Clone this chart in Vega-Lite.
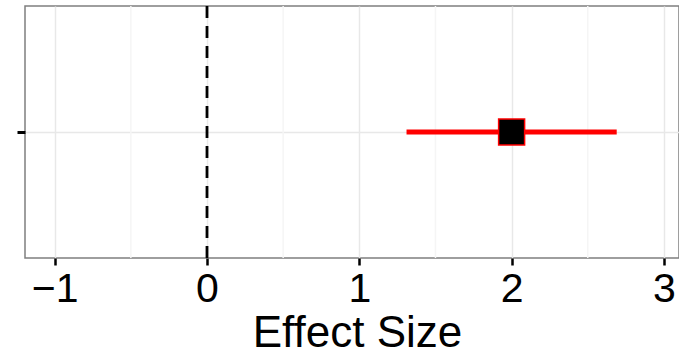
{
  "$schema": "https://vega.github.io/schema/vega-lite/v6.json",
  "autosize": "none",
  "width": 654,
  "height": 252,
  "padding": {"left": 25, "top": 6, "right": 0, "bottom": 99},
  "background": "white",
  "config": {
    "font": "Liberation Sans",
    "view": {"stroke": "#7f7f7f", "strokeWidth": 1.5}
  },
  "datasets": {
    "est": [{"study": "A", "est": 2.0, "lo": 1.31, "hi": 2.69}],
    "minor": [{"v": -0.5}, {"v": 0.5}, {"v": 1.5}, {"v": 2.5}],
    "ref": [{"v": 0}]
  },
  "layer": [
    {
      "data": {"name": "minor"},
      "mark": {"type": "rule", "color": "#f5f5f5", "strokeWidth": 1.5},
      "encoding": {
        "x": {"field": "v", "type": "quantitative"}
      }
    },
    {
      "data": {"name": "ref"},
      "mark": {"type": "rule", "color": "black", "strokeWidth": 2.8, "strokeDash": [12, 8]},
      "encoding": {
        "x": {"field": "v", "type": "quantitative"}
      }
    },
    {
      "data": {"name": "est"},
      "mark": {"type": "rule", "color": "#ff0000", "strokeWidth": 5},
      "encoding": {
        "x": {"field": "lo", "type": "quantitative"},
        "x2": {"field": "hi"},
        "y": {"field": "study", "type": "nominal"}
      }
    },
    {
      "data": {"name": "est"},
      "mark": {"type": "point", "shape": "square", "filled": true, "fill": "black", "stroke": "#ff0000", "strokeWidth": 1.5, "size": 676, "opacity": 1},
      "encoding": {
        "x": {
          "field": "est",
          "type": "quantitative",
          "scale": {"domain": [-1.195, 3.099], "nice": false, "zero": false},
          "axis": {
            "title": "Effect Size",
            "values": [-1, 0, 1, 2, 3],
            "format": "d",
            "labelFontSize": 41,
            "labelColor": "black",
            "labelPadding": 4,
            "labelFlush": false,
            "tickSize": 7,
            "tickWidth": 2.5,
            "tickColor": "black",
            "domain": false,
            "grid": true,
            "gridColor": "#e8e8e8",
            "gridWidth": 1.5,
            "titleFontSize": 44,
            "titleFontWeight": "normal",
            "titleColor": "black",
            "titlePadding": 2,
            "titleX": 332
          }
        },
        "y": {
          "field": "study",
          "type": "nominal",
          "axis": {
            "title": null,
            "labels": false,
            "domain": false,
            "tickSize": 8,
            "tickWidth": 3,
            "tickColor": "black",
            "grid": true,
            "gridColor": "#e8e8e8",
            "gridWidth": 1.5
          }
        }
      }
    }
  ]
}
